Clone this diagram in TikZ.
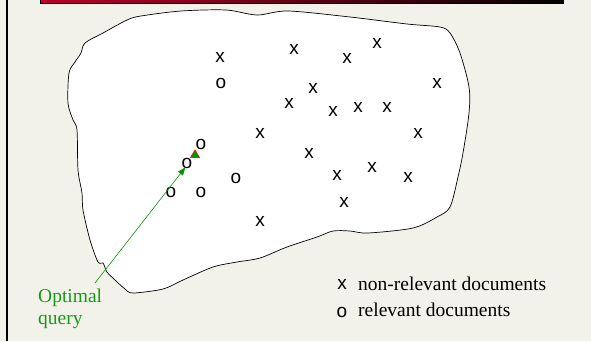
\documentclass[tikz,border=0pt]{standalone}
\usepackage{fontspec}
\setmainfont{Liberation Serif}
\newfontfamily\markfont{Liberation Sans}
\usetikzlibrary{arrows.meta,shapes.geometric}
\definecolor{bgcol}{RGB}{242,241,234}
\definecolor{barred}{RGB}{190,0,40}
\definecolor{optgreen}{RGB}{20,155,20}
\definecolor{arrgreen}{RGB}{110,205,110}
\definecolor{headgreen}{RGB}{0,150,0}
\begin{document}
\begin{tikzpicture}[x=1pt,y=-1pt,
  mk/.style={font=\markfont\fontsize{19}{19}\selectfont, inner sep=0pt},
  legtext/.style={font=\fontsize{19.5}{22}\selectfont, inner sep=0pt, anchor=base west},
  trimark/.style={regular polygon, regular polygon sides=3, minimum size=10.5pt, inner sep=0pt, fill=headgreen, draw=red, line width=0.5pt},
  arrowline/.style={draw=arrgreen, line width=0.6pt, -{Triangle[length=8pt,width=6pt,fill=headgreen]}, headgreen}]
\useasboundingbox (0,0) rectangle (591,341);
\fill[bgcol] (0,0) rectangle (591,341);
% title bar remnant
\shade[left color=barred, right color=black] (40,-1) rectangle (563,3);
\draw[black, line width=0.6pt] (40,-1) rectangle (563,3);
% left border
\draw[line width=2.5pt] (7,0) -- (7,341);
% document space blob
\draw[fill=white, line width=0.7pt] plot[smooth cycle, tension=0.5] coordinates {
 (75,62) (81,53) (85,43) (103,33) (127,20) (141,16) (181,11) (226,10) (257,15) (288,11)
 (350,17) (407,24) (440,27) (450,33) (460,53) (469,87) (469,113) (463,153) (458,177)
 (450,207) (437,217) (413,228) (368,233) (350,231) (333,231) (317,237) (287,247)
 (260,258) (237,262) (213,267) (183,280) (163,289) (133,293) (125,289) (115,280)
 (107,272) (103,263) (98,262) (90,240) (83,210) (82,193) (78,170) (77,130) (73,120)
 (68,103) (69,73)};
% non-relevant documents
\node[mk] (x1) at (220,57) {x};
\node[mk] (x2) at (294,49) {x};
\node[mk] (x3) at (347,58) {x};
\node[mk] (x4) at (377,43) {x};
\node[mk] (x5) at (437,83) {x};
\node[mk] (x6) at (313,88) {x};
\node[mk] (x7) at (289,103) {x};
\node[mk] (x8) at (333,111) {x};
\node[mk] (x9) at (358,107) {x};
\node[mk] (x10) at (387,107) {x};
\node[mk] (x11) at (260,133) {x};
\node[mk] (x12) at (418,133) {x};
\node[mk] (x13) at (309,153) {x};
\node[mk] (x14) at (337,175) {x};
\node[mk] (x15) at (372,167) {x};
\node[mk] (x16) at (408,177) {x};
\node[mk] (x17) at (344,202) {x};
\node[mk] (x18) at (260,221) {x};
% relevant documents
\node[mk] (o1) at (221,83) {o};
\node[mk] (o2) at (201,144) {o};
\node[mk] (o3) at (187,163) {o};
\node[mk] (o4) at (236,178) {o};
\node[mk] (o5) at (171,192) {o};
\node[mk] (o6) at (201,192) {o};
% optimal query
\node[trimark] (opt) at (195,155) {};
\node[font=\fontsize{19.5}{22}\selectfont, text=optgreen, align=left, anchor=north west, inner sep=0pt] (optlabel) at (38,288.5) {Optimal\\query};
\coordinate (qtail) at (95,283);
\draw[arrowline, shorten >=12pt] (qtail) -- (opt);
% legend
\node[mk] (legx) at (342,284) {x};
\node[legtext] (legxt) at (358,290) {non-relevant documents};
\node[mk] (lego) at (342,312) {o};
\node[legtext] (legot) at (358,316.5) {relevant documents};
\end{tikzpicture}
\end{document}
